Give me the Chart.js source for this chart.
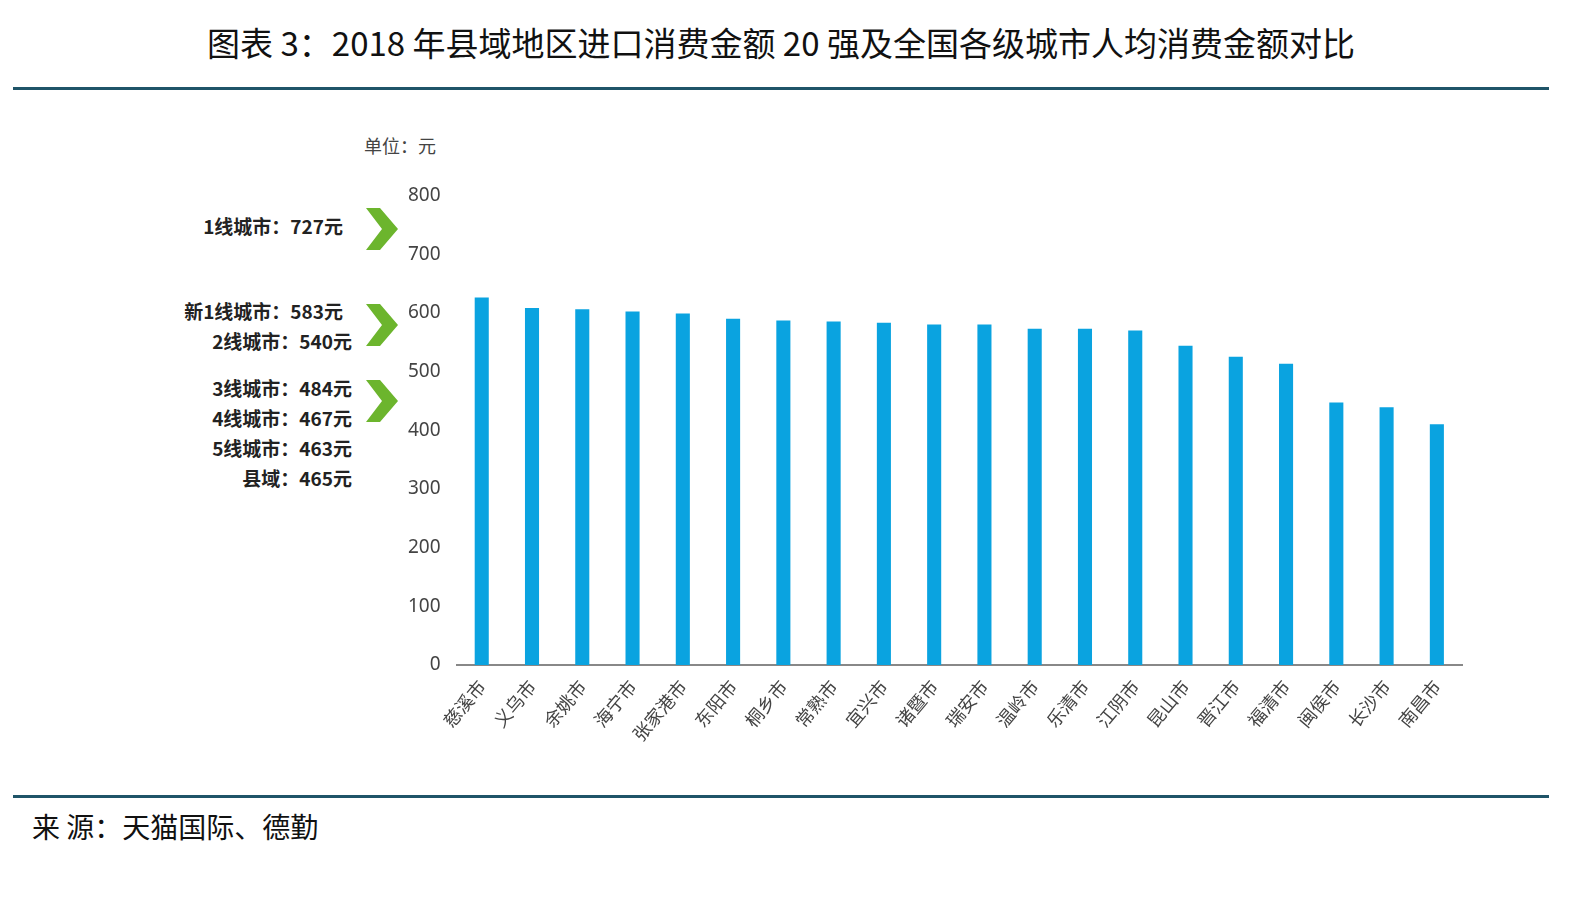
<!DOCTYPE html>
<html><head><meta charset="utf-8">
<script src="https://cdn.jsdelivr.net/npm/chart.js@4/dist/chart.umd.min.js"></script>
<style>
body{margin:0;width:1584px;height:898px;background:#fff;font-family:"Noto Sans CJK SC","Noto Sans",sans-serif;position:relative;overflow:hidden}
.t{position:absolute;white-space:nowrap}
#title{left:0;width:1562px;text-align:center;top:18px;font-size:33px;color:#111}
.line{position:absolute;left:13px;width:1536px;height:3px;background:#1f5468}
.ann{right:1232px;font-size:19px;font-weight:bold;color:#222;text-align:right}
#wrap{position:absolute;left:0;top:176px;width:1584px;height:572px}
</style></head><body>
<div id="title" class="t">图表 3：2018 年县域地区进口消费金额 20 强及全国各级城市人均消费金额对比</div>
<div class="line" style="top:87px"></div>
<div class="line" style="top:795px"></div>
<div class="t" style="left:32px;top:806px;font-size:28px;color:#111">来 源：天猫国际、德勤</div>
<div class="t" style="left:364px;top:132px;font-size:18px;color:#444">单位：元</div>
<div class="t ann" style="right:1241px;top:212px">1线城市：727元</div>
<div class="t ann" style="right:1241px;top:297px">新1线城市：583元</div>
<div class="t ann" style="top:327px">2线城市：540元</div>
<div class="t ann" style="top:374px">3线城市：484元</div>
<div class="t ann" style="top:404px">4线城市：467元</div>
<div class="t ann" style="top:434px">5线城市：463元</div>
<div class="t ann" style="top:464px">县域：465元</div>
<svg style="position:absolute;left:362px;top:202px" width="40" height="230">
<g fill="#6cb52d">
<polygon points="4,6 18,6 36,27 18,48 4,48 20,27"/>
<polygon points="4,102 18,102 36,123 18,144 4,144 20,123"/>
<polygon points="4,178 18,178 36,199 18,220 4,220 20,199"/>
</g></svg>
<div id="wrap"><canvas id="c"></canvas></div>
<script>
const categories=["慈溪市","义乌市","余姚市","海宁市","张家港市","东阳市","桐乡市","常熟市","宜兴市","诸暨市","瑞安市","温岭市","乐清市","江阴市","昆山市","晋江市","福清市","闽侯市","长沙市","南昌市"];
const values=[626,608,606,602,599,590,587,585,583,580,580,573,573,570,544,525,513,447,439,410];
new Chart(document.getElementById('c'),{type:'bar',
data:{labels:categories,datasets:[{data:values,backgroundColor:'#0aa3e0',barPercentage:0.28,categoryPercentage:1}]},
options:{responsive:true,maintainAspectRatio:false,animation:false,
layout:{padding:{left:400,right:122,top:10,bottom:0}},
plugins:{legend:{display:false},tooltip:{enabled:false}},
scales:{
y:{min:0,max:800,ticks:{stepSize:100,color:'#444',font:{size:19,family:'Noto Sans'},padding:8},grid:{display:false},border:{display:false}},
x:{ticks:{color:'#444',font:{size:18,family:'Noto Sans CJK SC'},minRotation:50,maxRotation:50},grid:{display:false},border:{color:'#888',width:2}}
}}});
</script></body></html>
